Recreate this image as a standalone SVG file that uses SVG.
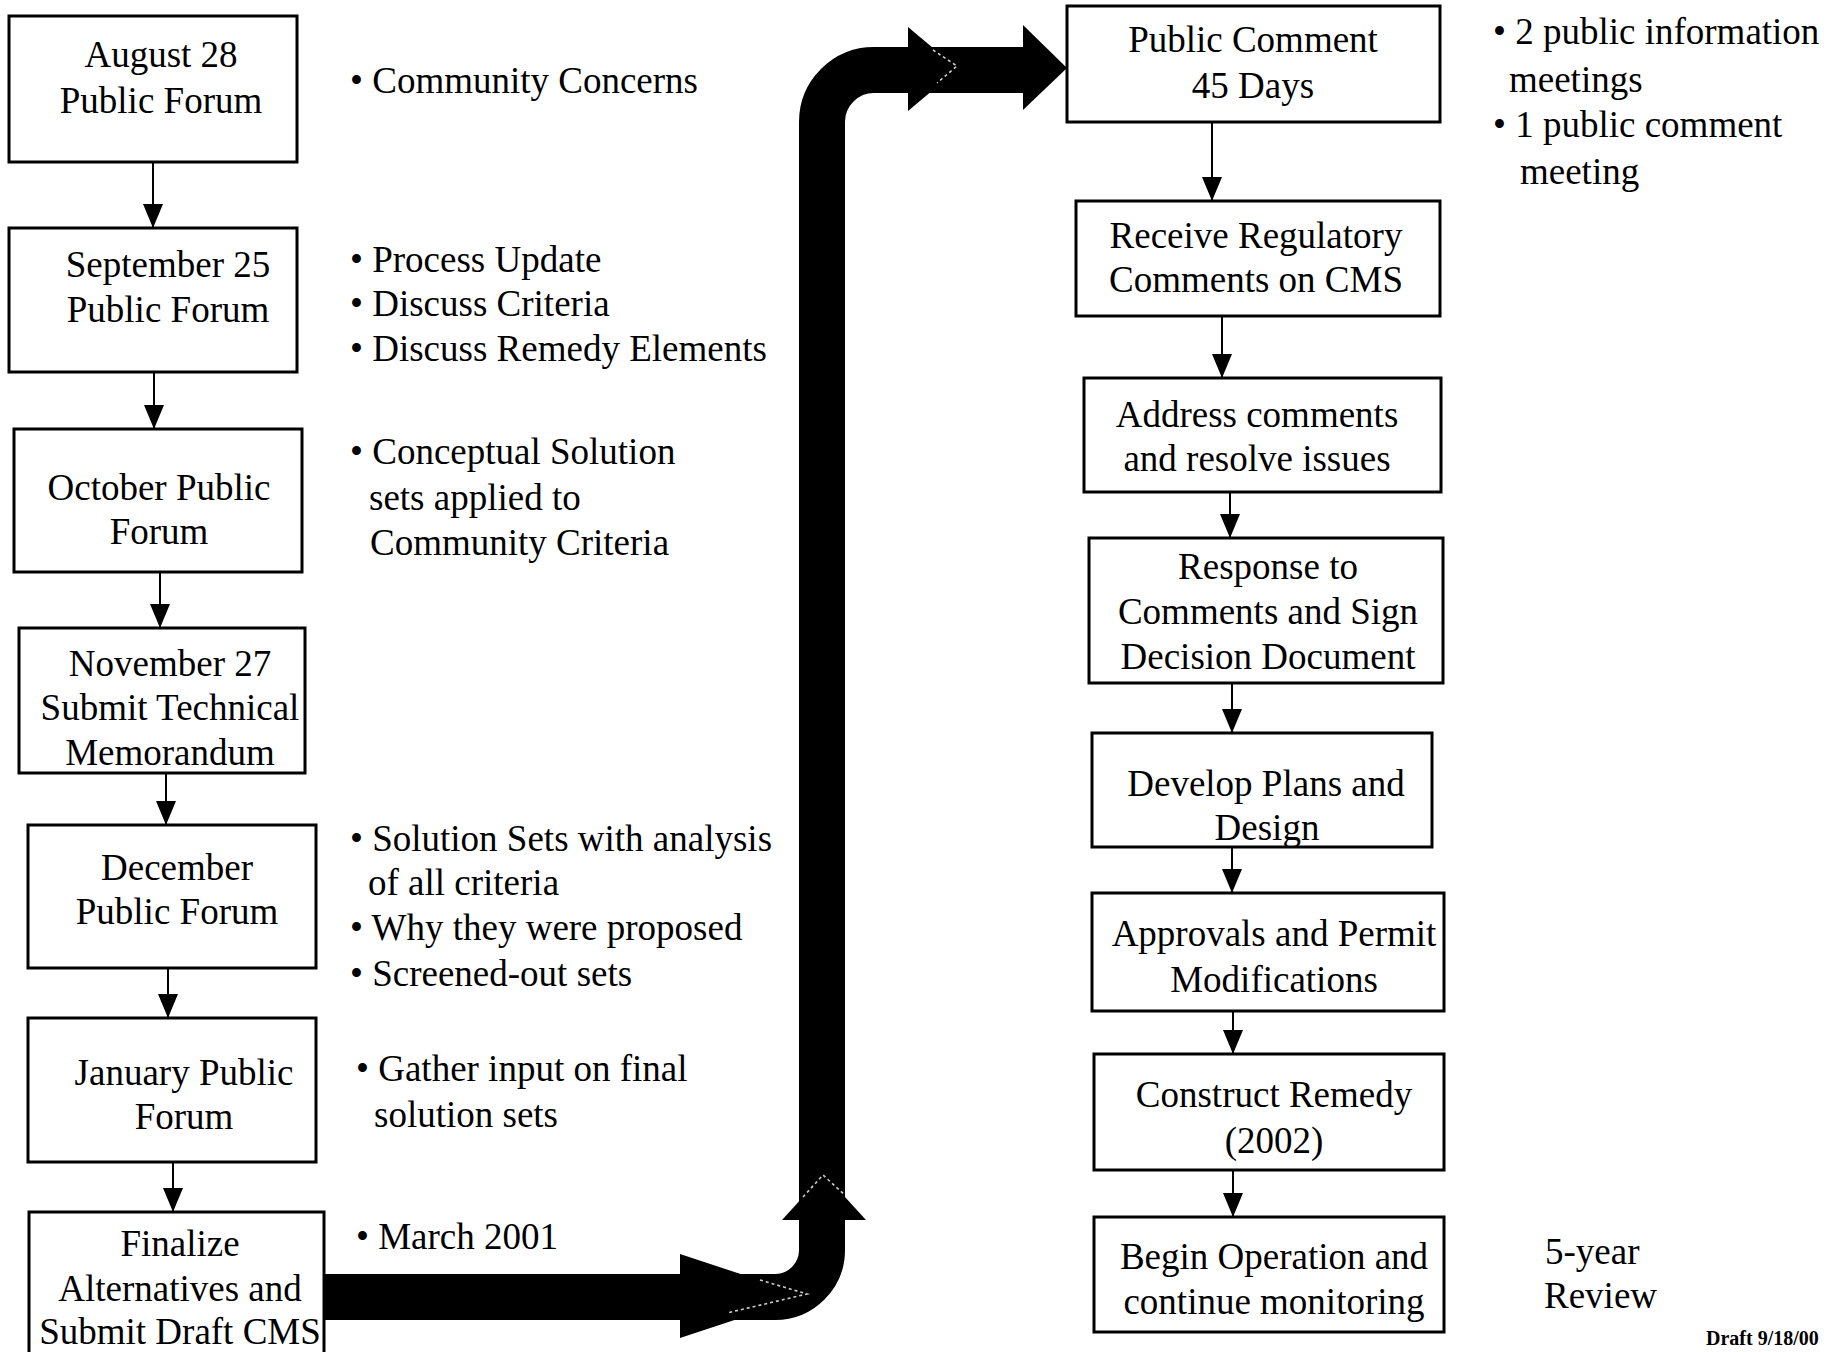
<svg xmlns="http://www.w3.org/2000/svg" width="1842" height="1352" viewBox="0 0 1842 1352">
<style>
.box{fill:#fff;stroke:#000;stroke-width:3}
.t{font-family:"Liberation Serif","Times New Roman",serif;font-size:37px;fill:#000}
.c{text-anchor:middle}
.ln{stroke:#000;stroke-width:2;fill:none;marker-end:url(#ah)}
.big{stroke:#000;stroke-width:46;fill:none}
.hid{stroke:#fff;stroke-width:1.6;fill:none;stroke-dasharray:3 3;opacity:0.8}
</style>
<defs>
<marker id="ah" viewBox="0 0 24 20" refX="24" refY="10" markerWidth="24" markerHeight="20" markerUnits="userSpaceOnUse" orient="auto">
<path d="M0,0 L24,10 L0,20 z" fill="#000"/>
</marker>
</defs>
<rect width="1842" height="1352" fill="#fff"/>

<g id="connectors">
<line class="ln" x1="153" y1="162" x2="153" y2="228"/>
<line class="ln" x1="154" y1="372" x2="154" y2="429"/>
<line class="ln" x1="160" y1="572" x2="160" y2="628"/>
<line class="ln" x1="166" y1="773" x2="166" y2="825"/>
<line class="ln" x1="168" y1="968" x2="168" y2="1018"/>
<line class="ln" x1="173" y1="1162" x2="173" y2="1212"/>
<line class="ln" x1="1212" y1="122" x2="1212" y2="201"/>
<line class="ln" x1="1222" y1="316" x2="1222" y2="378"/>
<line class="ln" x1="1230" y1="492" x2="1230" y2="538"/>
<line class="ln" x1="1232" y1="683" x2="1232" y2="733"/>
<line class="ln" x1="1232" y1="847" x2="1232" y2="893"/>
<line class="ln" x1="1233" y1="1011" x2="1233" y2="1054"/>
<line class="ln" x1="1233" y1="1170" x2="1233" y2="1217"/>
<g id="bigArrow">
<path class="big" d="M324 1297 H775 A47 47 0 0 0 822 1250 V122 A52 52 0 0 1 874 70 H1025"/>
<polygon points="680,1254 807,1296 680,1338" fill="#000"/>
<polygon points="782,1220 824,1174 866,1220" fill="#000"/>
<polygon points="908,27 958,69 908,111" fill="#000"/>
<polygon points="1023,25 1067,68 1023,110" fill="#000"/>
<polyline class="hid" points="760,1280 807,1294 727,1313"/>
<polyline class="hid" points="803,1197 823,1175 847,1197"/>
<polyline class="hid" points="933,50 957,66 937,83"/>
</g>
</g>

<g id="n-aug"><rect class="box" x="9" y="16" width="288" height="146"/>
<text class="t c" x="161" y="67">August 28</text><text class="t c" x="161" y="113">Public Forum</text></g>
<g id="n-sep"><rect class="box" x="9" y="228" width="288" height="144"/>
<text class="t c" x="168" y="277">September 25</text><text class="t c" x="168" y="322">Public Forum</text></g>
<g id="n-oct"><rect class="box" x="14" y="429" width="288" height="143"/>
<text class="t c" x="159" y="500">October Public</text><text class="t c" x="159" y="544">Forum</text></g>
<g id="n-nov"><rect class="box" x="19" y="628" width="286" height="145"/>
<text class="t c" x="170" y="676">November 27</text><text class="t c" x="170" y="720">Submit Technical</text><text class="t c" x="170" y="765">Memorandum</text></g>
<g id="n-dec"><rect class="box" x="28" y="825" width="288" height="143"/>
<text class="t c" x="177" y="880">December</text><text class="t c" x="177" y="924">Public Forum</text></g>
<g id="n-jan"><rect class="box" x="28" y="1018" width="288" height="144"/>
<text class="t c" x="184" y="1085">January Public</text><text class="t c" x="184" y="1129">Forum</text></g>
<g id="n-fin"><rect class="box" x="29" y="1212" width="295" height="150"/>
<text class="t c" x="180" y="1256">Finalize</text><text class="t c" x="180" y="1301">Alternatives and</text><text class="t c" x="180" y="1344">Submit Draft CMS</text></g>

<g id="n-pc"><rect class="box" x="1067" y="6" width="373" height="116"/>
<text class="t c" x="1253" y="52">Public Comment</text><text class="t c" x="1253" y="98">45 Days</text></g>
<g id="n-rr"><rect class="box" x="1076" y="201" width="364" height="115"/>
<text class="t c" x="1256" y="248">Receive Regulatory</text><text class="t c" x="1256" y="292">Comments on CMS</text></g>
<g id="n-ac"><rect class="box" x="1084" y="378" width="357" height="114"/>
<text class="t c" x="1257" y="427">Address comments</text><text class="t c" x="1257" y="471">and resolve issues</text></g>
<g id="n-rc"><rect class="box" x="1089" y="538" width="354" height="145"/>
<text class="t c" x="1268" y="579">Response to</text><text class="t c" x="1268" y="624">Comments and Sign</text><text class="t c" x="1268" y="669">Decision Document</text></g>
<g id="n-dp"><rect class="box" x="1092" y="733" width="340" height="114"/>
<text class="t c" x="1266" y="796">Develop Plans and</text><text class="t c" x="1267" y="840">Design</text></g>
<g id="n-ap"><rect class="box" x="1092" y="893" width="352" height="118"/>
<text class="t c" x="1274" y="946">Approvals and Permit</text><text class="t c" x="1274" y="992">Modifications</text></g>
<g id="n-cr"><rect class="box" x="1094" y="1054" width="350" height="116"/>
<text class="t c" x="1274" y="1107">Construct Remedy</text><text class="t c" x="1274" y="1153">(2002)</text></g>
<g id="n-bo"><rect class="box" x="1094" y="1217" width="350" height="115"/>
<text class="t c" x="1274" y="1269">Begin Operation and</text><text class="t c" x="1274" y="1314">continue monitoring</text></g>

<g id="notes">
<text class="t" x="350" y="93">• Community Concerns</text>
<text class="t" x="350" y="272">• Process Update</text>
<text class="t" x="350" y="316">• Discuss Criteria</text>
<text class="t" x="350" y="361">• Discuss Remedy Elements</text>
<text class="t" x="350" y="464">• Conceptual Solution</text>
<text class="t" x="369" y="510">sets applied to</text>
<text class="t" x="370" y="555">Community Criteria</text>
<text class="t" x="350" y="851">• Solution Sets with analysis</text>
<text class="t" x="368" y="895">of all criteria</text>
<text class="t" x="350" y="940">• Why they were proposed</text>
<text class="t" x="350" y="986">• Screened-out sets</text>
<text class="t" x="356" y="1081">• Gather input on final</text>
<text class="t" x="374" y="1127">solution sets</text>
<text class="t" x="356" y="1249">• March 2001</text>
<text class="t" x="1493" y="44">• 2 public information</text>
<text class="t" x="1509" y="92">meetings</text>
<text class="t" x="1493" y="137">• 1 public comment</text>
<text class="t" x="1520" y="184">meeting</text>
<text class="t" x="1545" y="1264">5-year</text>
<text class="t" x="1544" y="1308">Review</text>
<text x="1706" y="1345" style="font-family:'Liberation Serif','Times New Roman',serif;font-size:20px;font-weight:bold">Draft 9/18/00</text>
</g>
</svg>
